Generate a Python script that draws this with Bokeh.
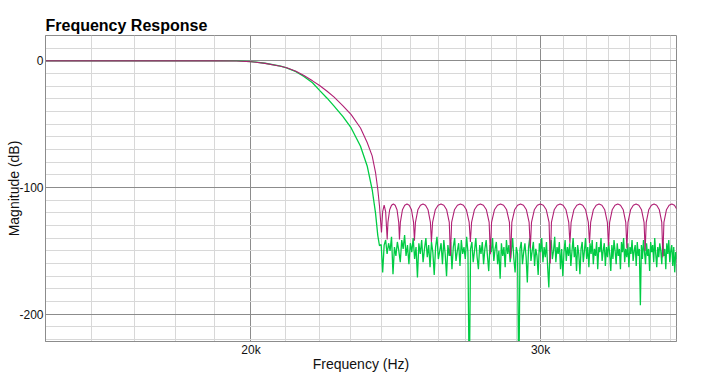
from bokeh.plotting import figure
from bokeh.models import FixedTicker
from bokeh.embed import file_html
from bokeh.resources import INLINE

# ---------------- data ----------------
X_RANGE = (15000, 36290)
Y_RANGE = (-221.6, 20)

x_major = [20000, 30000]
x_labels = {20000: "20k", 30000: "30k"}
x_minor = [15000, 16000, 17000, 18000, 19000, 21000, 22000, 23000, 24000, 25000,
           26000, 27000, 28000, 29000, 31000, 32000, 33000, 34000, 35000, 36000]
y_major = [-200, -100, 0]
y_labels = {-200: "-200", -100: "-100", 0: "0"}
y_minor = [-220, -210, -190, -180, -170, -160, -150, -140, -130, -120, -110,
           -90, -80, -70, -60, -50, -40, -30, -20, -10, 10, 20]

# magenta series (passband, transition, stopband lobes)
mag_freq = [15000, 19000, 19600, 20000, 20400, 20848, 21024, 21300, 21539, 21800, 22016, 22250, 22462,
            22750, 23013, 23315, 23534, 23699, 23810, 23887, 23943,
            24010, 24050, 24100, 24150, 24203,
            24228, 24287, 24350, 24413, 24475, 24538, 24597, 24622,
            24653, 24726, 24805, 24883, 24961, 25040, 25113, 25144,
            25180, 25265, 25356, 25447, 25537, 25628, 25713, 25749,
            25791, 25888, 25992, 26096, 26200, 26304, 26401, 26443,
            26488, 26593, 26705, 26818, 26930, 27042, 27147, 27192,
            27238, 27346, 27462, 27578, 27693, 27809, 27917, 27963,
            28011, 28124, 28245, 28366, 28487, 28608, 28721, 28769,
            28817, 28930, 29050, 29171, 29291, 29411, 29524, 29572,
            29622, 29740, 29865, 29991, 30117, 30242, 30360, 30410,
            30461, 30580, 30707, 30835, 30962, 31089, 31208, 31259,
            31311, 31433, 31563, 31694, 31824, 31954, 32076, 32128,
            32180, 32301, 32431, 32561, 32691, 32821, 32942, 32994,
            33046, 33166, 33295, 33424, 33553, 33682, 33802, 33854,
            33907, 34030, 34161, 34293, 34425, 34556, 34679, 34732,
            34784, 34906, 35037, 35167, 35298, 35428, 35550, 35602,
            35656, 35782, 35917, 36052, 36187, 36300]
mag_db = [0, 0, -0.1, -0.7, -2, -4.3, -5.5, -8.3, -11.6, -15.8, -19.5, -24, -28.5,
          -35.5, -42.5, -53, -64.5, -75, -88, -101.6, -114.6,
          -135.5, -119, -114, -119, -141,
          -127.6, -117.6, -114, -113, -114, -117.6, -127.6, -141,
          -127.6, -117.6, -114, -113, -114, -117.6, -127.6, -142,
          -127.6, -117.6, -114, -113, -114, -117.6, -127.6, -143,
          -127.6, -117.6, -114, -113, -114, -117.6, -127.6, -154,
          -127.6, -117.6, -114, -113, -114, -117.6, -127.6, -143,
          -127.6, -117.6, -114, -113, -114, -117.6, -127.6, -152.6,
          -127.6, -117.6, -114, -113, -114, -117.6, -127.6, -156,
          -127.6, -117.6, -114, -113, -114, -117.6, -127.6, -148,
          -127.6, -117.6, -114, -113, -114, -117.6, -127.6, -160,
          -127.6, -117.6, -114, -113, -114, -117.6, -127.6, -144,
          -127.6, -117.6, -114, -113, -114, -117.6, -127.6, -144,
          -127.6, -117.6, -114, -113, -114, -117.6, -127.6, -146,
          -127.6, -117.6, -114, -113, -114, -117.6, -127.6, -148,
          -127.6, -117.6, -114, -113, -114, -117.6, -127.6, -150,
          -127.6, -117.6, -114, -113, -114, -117.6, -127.6, -155,
          -127.6, -117.6, -114, -113, -114, -117]

# green series: passband/transition
green_trans_freq = [15000, 19000, 19600, 20000, 20400, 20848, 21024, 21300, 21539, 21800, 22016, 22250,
                    22462, 22750, 23013, 23315, 23534, 23699, 23810, 23887, 23943, 24000]
green_trans_db = [0, 0, -0.1, -0.6, -1.9, -4.2, -5.5, -8.6, -12.3, -17.3, -23.3, -29.5,
                  -35.6, -44, -53, -67.5, -83, -101.6, -120, -138, -146, -145]
# green stopband noise, one value per 50 Hz bin from 24050 Hz to 36300 Hz
noise_bin_freq = list(range(24050, 36301, 50))
green_noise_db = [
    -167, -145.5, -141.5, -152.5, -144, -150, -139, -168.5, -147, -154,
    -143, -150, -159, -141.5, -148.5, -137.5, -154, -145.5, -160.5, -144,
    -151, -140, -156.5, -147, -171, -144, -152.5, -141.5, -159, -148.5,
    -140, -155, -145.5, -163, -143, -151, -169, -147, -139, -156.5,
    -150, -144, -160.5, -141.5, -152.5, -170, -145.5, -154, -143, -164.5,
    -147, -140, -158, -150, -144, -162, -141.5, -152.5, -147, -156.5,
    -139, -151, -260, -148.5, -143, -159, -150, -140, -155, -164.5,
    -145.5, -152.5, -143, -160.5, -148.5, -141.5, -154, -166, -145.5, -151,
    -140, -158, -148.5, -143, -160.5, -150, -172, -144, -154, -147,
    -163, -141.5, -152.5, -145.5, -159, -150, -140, -156.5, -167, -147,
    -152.5, -260, -148.5, -143, -160.5, -151, -144, -155, -175, -147,
    -140, -158, -150, -143, -162, -148.5, -154, -169, -144, -151,
    -140, -159, -147, -155, -143, -163, -179, -148.5, -141.5, -156.5,
    -150, -139, -159, -147, -152.5, -143, -164.5, -148.5, -170, -151,
    -141.5, -158, -147, -154, -144, -162, -150, -140, -155, -147,
    -166, -145.5, -152.5, -168.5, -148.5, -143, -159, -150, -140, -156.5,
    -147, -163, -144, -152.5, -141.5, -160.5, -148.5, -154, -143, -164.5,
    -147, -151, -140, -158, -150, -144, -162, -147, -155, -143,
    -152.5, -166, -145.5, -156.5, -141.5, -150, -160.5, -144, -154, -148.5,
    -164.5, -143, -151, -140, -159, -148.5, -155, -144, -163, -147,
    -152.5, -141.5, -158, -150, -145.5, -162, -143, -154, -148.5, -193,
    -145.5, -156.5, -141.5, -151, -160.5, -144, -154, -148.5, -166, -143,
    -151, -145.5, -159, -140, -152.5, -163, -147, -155, -144, -150,
    -160.5, -143, -154, -148.5, -164.5, -144, -152.5, -141.5, -159, -150,
    -145.5, -162, -147, -167, -151, -156.5,
]

green_freq = green_trans_freq + noise_bin_freq
green_db = green_trans_db + green_noise_db

# ---------------- styling ----------------
FONT = "Liberation Sans"
MAG_COLOR = "#b01f74"
GREEN_COLOR = "#00cc44"
MAJOR_GRID = "#8c8c8c"
MINOR_GRID = "#d8d8d8"

p = figure(width=709, height=380, x_axis_type="log", x_range=X_RANGE, y_range=Y_RANGE,
           output_backend="svg", toolbar_location=None, title="Frequency Response",
           min_border_left=45, min_border_right=33, min_border_top=35, min_border_bottom=39)

p.title.text_font = FONT
p.title.text_font_size = "16px"
p.title.text_font_style = "bold"
p.title.text_color = "#000000"
p.title.align = "left"
p.title.standoff = 3

xt = FixedTicker(ticks=x_major, minor_ticks=x_minor)
yt = FixedTicker(ticks=y_major, minor_ticks=y_minor)
p.xaxis.ticker = xt
p.yaxis.ticker = yt
p.xgrid.ticker = xt
p.ygrid.ticker = yt
p.xaxis.major_label_overrides = x_labels
p.yaxis.major_label_overrides = y_labels

for ax in (p.xaxis, p.yaxis):
    ax.major_tick_line_color = None
    ax.minor_tick_line_color = None
    ax.major_tick_out = 0
    ax.major_tick_in = 0
    ax.axis_line_color = MAJOR_GRID
    ax.major_label_text_font = FONT
    ax.major_label_text_font_size = "12px"
    ax.major_label_text_color = "#111111"
    ax.axis_label_text_font = FONT
    ax.axis_label_text_font_size = "14px"
    ax.axis_label_text_font_style = "normal"
    ax.axis_label_text_color = "#111111"

p.xaxis.major_label_standoff = -3
p.xaxis.axis_label_standoff = -4
p.yaxis.major_label_standoff = -2
p.yaxis.axis_label_standoff = -6

p.xaxis.axis_label = "Frequency (Hz)"
p.yaxis.axis_label = "Magnitude (dB)"

for g in (p.xgrid, p.ygrid):
    g.grid_line_color = MAJOR_GRID
    g.minor_grid_line_color = MINOR_GRID

p.outline_line_color = MAJOR_GRID
p.outline_line_alpha = 1.0

p.line(green_freq, green_db, line_color=GREEN_COLOR, line_width=1.3)
p.line(mag_freq, mag_db, line_color=MAG_COLOR, line_width=1.1)

open("out.html", "w").write(file_html(p, INLINE))
